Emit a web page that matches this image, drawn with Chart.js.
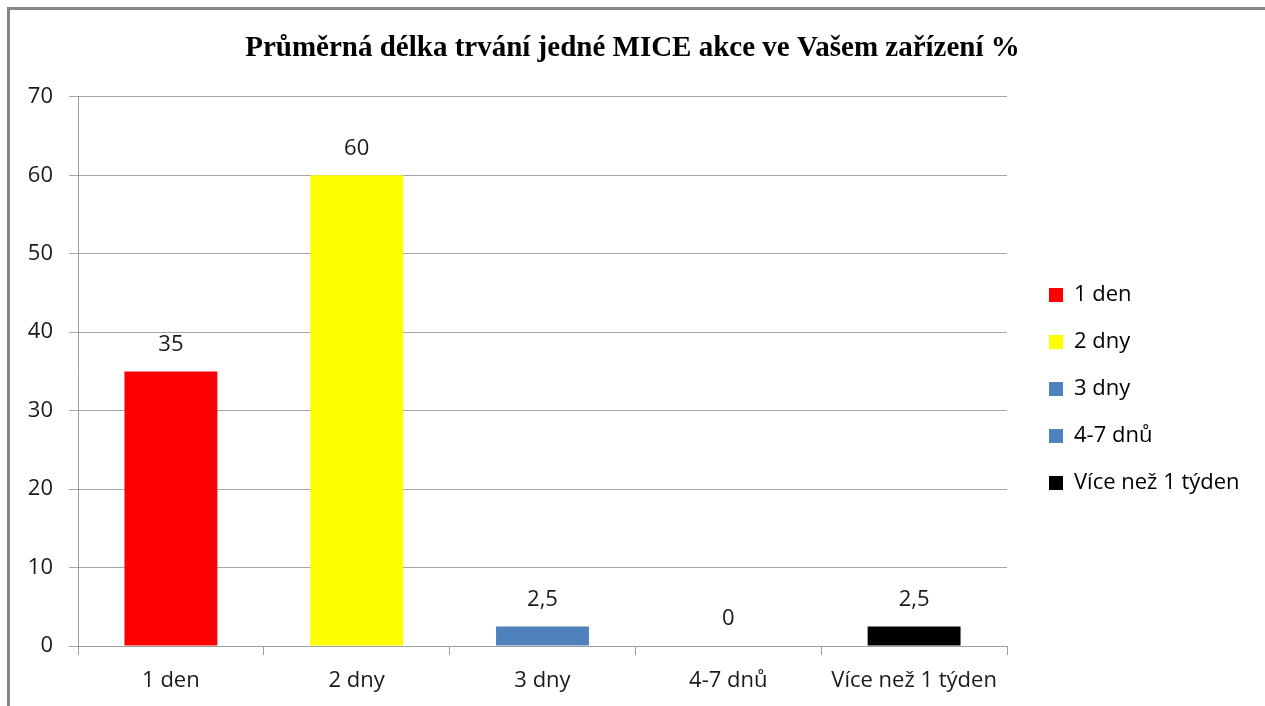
<!DOCTYPE html>
<html>
<head>
<meta charset="utf-8">
<script src="https://cdn.jsdelivr.net/npm/chart.js@4/dist/chart.umd.min.js"></script>
<style>
  html, body { margin: 0; background: #fff; overflow: hidden; }
  #frame { position: absolute; left: 7px; top: 7px; width: 1300px; height: 760px; border: 3px solid #868686; }
  #wrap { position: absolute; left: 0; top: 0; width: 1265px; height: 706px; }
</style>
</head>
<body>
<div id="frame"></div>
<div id="wrap"><canvas id="c"></canvas></div>
<script>
// data
const categories = ["1 den", "2 dny", "3 dny", "4-7 dnů", "Více než 1 týden"];
const values = [35, 60, 2.5, 0, 2.5];
const barColors = ["#ff0000", "#ffff00", "#4f81bd", "#4f81bd", "#000000"];
const yMax = 70, yStep = 10;
const title = "Průměrná délka trvání jedné MICE akce ve Vašem zařízení %";

const FONT = "'Open Sans', 'Noto Sans', sans-serif";
const FS = 22;
const czNum = (v) => String(v).replace(".", ",");

// value labels above each bar
const valueLabels = {
  id: "valueLabels",
  afterDatasetsDraw(chart) {
    const ctx = chart.ctx;
    const meta = chart.getDatasetMeta(0);
    ctx.save();
    ctx.font = FS + "px " + FONT;
    ctx.fillStyle = "#1a1a1a";
    ctx.textAlign = "center";
    ctx.textBaseline = "middle";
    meta.data.forEach((bar, i) => ctx.fillText(czNum(values[i]), bar.x, bar.y - 27));
    ctx.restore();
  }
};

// fix the legend's width so the plot ends where it does in the original, then place it
const legendSpot = {
  id: "legendSpot",
  beforeLayout(chart) {
    const lg = chart.legend;
    if (lg && !lg._w) {
      const fit = lg.fit;
      lg.fit = function () { fit.call(this); this.width = 1265 - 10 - 1007; };
      lg._w = true;
    }
  },
  afterLayout(chart) {
    const lg = chart.legend, w = lg.width, h = lg.height, p = lg.options.labels.padding;
    lg.left = 1049 - p; lg.right = lg.left + w;
    lg.top = 295 - FS / 2 - p; lg.bottom = lg.top + h;
  }
};

new Chart(document.getElementById("c"), {
  type: "bar",
  data: {
    labels: categories,
    datasets: [{ data: values, backgroundColor: barColors, borderWidth: 0,
      categoryPercentage: 1, barPercentage: 0.5 }]
  },
  options: {
    responsive: true, maintainAspectRatio: false, animation: false,
    layout: { padding: { left: 10, right: 10, top: 0, bottom: 0 } },
    plugins: {
      title: { display: true, text: title, color: "#000",
        font: { family: "'Liberation Serif', serif", weight: "bold", size: 29 },
        padding: { top: 31, bottom: 31 } },
      legend: { position: "right", align: "start",
        labels: { color: "#1a1a1a", font: { family: FONT, size: FS }, boxWidth: 14, boxHeight: 14, padding: 25,
          generateLabels: () => categories.map((c, i) => ({ text: c, fillStyle: barColors[i], strokeStyle: barColors[i], lineWidth: 0, index: i })) } },
      tooltip: { enabled: false }
    },
    scales: {
      x: {
        grid: { drawOnChartArea: false, drawTicks: true, tickLength: 9, color: "#9e9e9e" },
        border: { color: "#9e9e9e" },
        ticks: { color: "#1a1a1a", font: { family: FONT, size: FS }, padding: 13 },
        afterFit: (s) => { s.height = 60; }
      },
      y: {
        min: 0, max: yMax,
        grid: { color: "#a6a6a6", tickLength: 9 },
        border: { color: "#9e9e9e" },
        ticks: { stepSize: yStep, color: "#1a1a1a", font: { family: FONT, size: FS }, padding: 16 },
        afterFit: (s) => { s.width = 68; }
      }
    }
  },
  plugins: [valueLabels, legendSpot]
});
</script>
</body>
</html>
